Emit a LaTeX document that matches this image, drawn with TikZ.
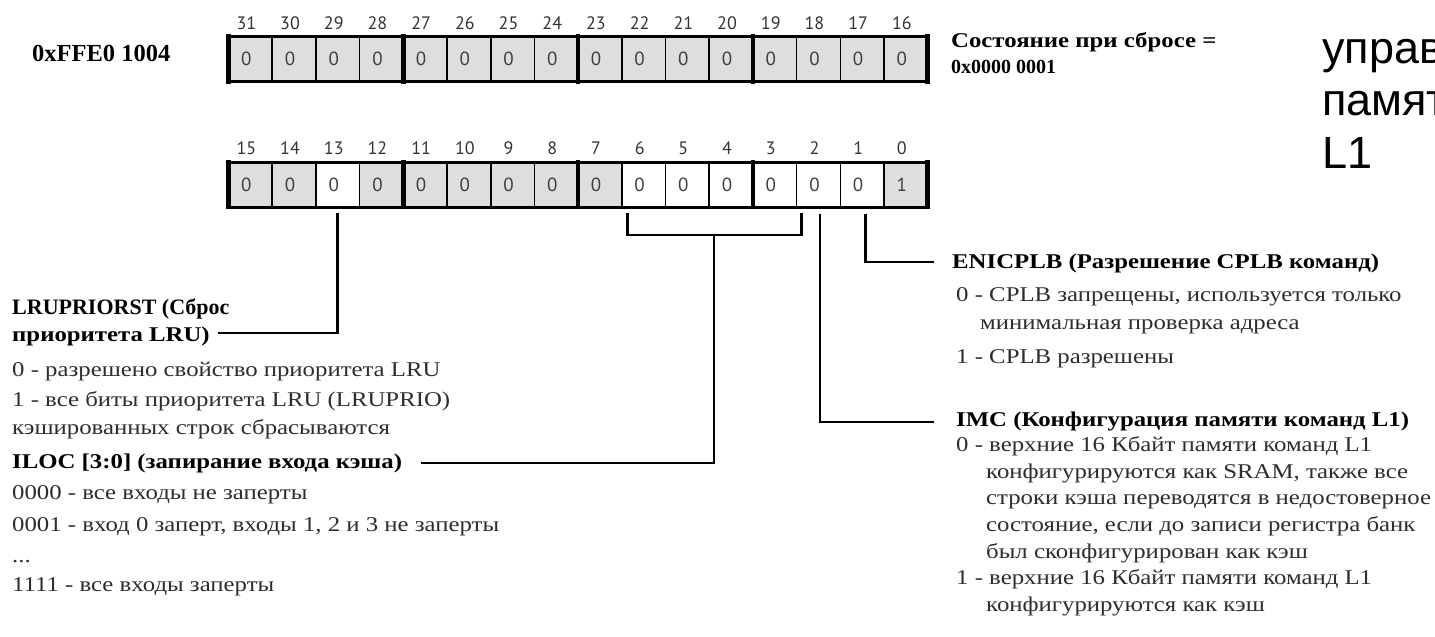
\documentclass[tikz,border=0pt]{standalone}
\usepackage{fontspec}
\setmainfont{Liberation Serif}
\newfontfamily\widefont[FakeStretch=1.18]{Liberation Serif}
\newfontfamily\digitfont[Numbers=Lining]{PT Sans}
\newfontfamily\bigsans{Liberation Sans}
\definecolor{cellgray}{RGB}{220,223,220}
\definecolor{txtgray}{RGB}{45,45,45}
\begin{document}
\begin{tikzpicture}[x=1pt,y=-1pt,
  cell/.style={draw=black, line width=1.6pt, minimum width=43.7pt, minimum height=45pt, inner sep=0pt, outer sep=0pt},
  bitnum/.style={font=\digitfont\fontsize{18}{18}\selectfont, text=black!80, inner sep=0pt},
  bitval/.style={font=\digitfont\fontsize{19}{19}\selectfont, text=black!75, inner sep=0pt},
  sep/.style={line width=4.5pt, line cap=rect},
  edge/.style={line width=3pt},
  conn/.style={line width=2.8pt},
  txt/.style={anchor=base west, inner sep=0pt, font=\widefont\fontsize{21}{25}\selectfont, text=txtgray},
  btxt/.style={anchor=base west, inner sep=0pt, font=\widefont\bfseries\fontsize{21}{25}\selectfont, text=black},
  big/.style={anchor=base west, inner sep=0pt, font=\bigsans\fontsize{45}{51}\selectfont, text=black},
]
\fill[white] (0,0) rectangle (1435,637);
\useasboundingbox (0,0) rectangle (1435,637);

% top register
\foreach \i in {0,...,15} {
  \pgfmathtruncatemacro\b{31-\i}
  \node[cell, fill=cellgray] (t\b) at ({228.5+43.7*\i+21.85}, 59) {};
  \node[bitval] (tv\b) at ([xshift=-4pt]t\b.center) {0};
  \node[bitnum] (tn\b) at ({228.5+43.7*\i+17.85}, 23) {\b};
}
\draw[edge] (t31.north west) rectangle (t16.south east);
\foreach \b in {31,27,23,19} {\draw[sep] (t\b.north west) -- (t\b.south west);}
\draw[sep] (t16.north east) -- (t16.south east);

% bottom register
\foreach \b/\f/\v [count=\i from 0] in {15/cellgray/0,14/cellgray/0,13/white/0,12/cellgray/0,
   11/cellgray/0,10/cellgray/0,9/cellgray/0,8/cellgray/0,
   7/cellgray/0,6/white/0,5/white/0,4/white/0,
   3/white/0,2/white/0,1/white/0,0/cellgray/1} {
  \node[cell, fill=\f] (b\b) at ({228.5+43.7*\i+21.85}, 184.5) {};
  \node[bitval] (bv\b) at ([xshift=-4pt]b\b.center) {\v};
  \node[bitnum] (bn\b) at ({228.5+43.7*\i+17.85}, 148) {\b};
}
\draw[edge] (b15.north west) rectangle (b0.south east);
\foreach \b in {15,11,7,3} {\draw[sep] (b\b.north west) -- (b\b.south west);}
\draw[sep] (b0.north east) -- (b0.south east);

% header texts
\node[btxt, font=\bfseries\fontsize{24.5}{28}\selectfont] (addr) at (32,61) {0xFFE0 1004};
\node[btxt] (rst1) at (951,47) {Состояние при сбросе =};
\node[btxt, font=\bfseries\fontsize{20}{24}\selectfont] (rst2) at (951,73) {0x0000 0001};
\node[big] (h1) at (1322,63) {управ};
\node[big] (h2) at (1322,115) {памят};
\node[big] (h3) at (1322,168) {L1};

% left descriptions
\node[btxt, font=\bfseries\fontsize{22}{26}\selectfont] (lru1) at (12,314) {LRUPRIORST (Сброс};
\node[btxt] (lru2) at (12,341) {приоритета LRU)};
\node[txt] (lru3) at (12,376) {0 - разрешено свойство приоритета LRU};
\node[txt] (lru4) at (12,406) {1 - все биты приоритета LRU (LRUPRIO)};
\node[txt] (lru5) at (12,434) {кэшированных строк сбрасываются};
\node[btxt] (iloc1) at (12,468) {ILOC [3:0] (запирание входа кэша)};
\node[txt] (iloc2) at (12,499) {0000 - все входы не заперты};
\node[txt] (iloc3) at (12,531) {0001 - вход 0 заперт, входы 1, 2 и 3 не заперты};
\node[txt] (iloc4) at (12,562) {...};
\node[txt] (iloc5) at (12,591) {1111 - все входы заперты};

% right descriptions
\node[btxt] (en1) at (952,268) {ENICPLB (Разрешение CPLB команд)};
\node[txt] (en2) at (956,301) {0 - CPLB запрещены, используется только};
\node[txt] (en3) at (980,329) {минимальная проверка адреса};
\node[txt] (en4) at (956,363) {1 - CPLB разрешены};
\node[btxt] (imc1) at (956,426) {IMC (Конфигурация памяти команд L1)};
\node[txt] (imc2) at (956,451) {0 - верхние 16 Кбайт памяти команд L1};
\node[txt] (imc3) at (986,478) {конфигурируются как SRAM, также все};
\node[txt] (imc4) at (986,504) {строки кэша переводятся в недостоверное};
\node[txt] (imc5) at (986,531) {состояние, если до записи регистра банк};
\node[txt] (imc6) at (986,558) {был сконфигурирован как кэш};
\node[txt] (imc7) at (956,584) {1 - верхние 16 Кбайт памяти команд L1};
\node[txt] (imc8) at (986,611) {конфигурируются как кэш};

% connectors
\coordinate (lruend) at (218,333);
\coordinate (brmid) at (714,235);
\coordinate (ilocend) at (421,463);
\coordinate (imcend) at (934,422);
\coordinate (enend) at (934,262);
\draw[conn] ([yshift=-6pt]b13.south) |- (lruend);
\draw[conn] ([xshift=6pt,yshift=-6pt]b6.south west) |- (brmid) -| ([xshift=4.5pt,yshift=-6pt]b3.south east);
\draw[conn] (brmid) |- (ilocend);
\draw[conn] ([xshift=1.5pt,yshift=-7pt]b2.south) |- (imcend);
\draw[conn] ([xshift=3pt,yshift=-7pt]b1.south) |- (enend);
\end{tikzpicture}
\end{document}
